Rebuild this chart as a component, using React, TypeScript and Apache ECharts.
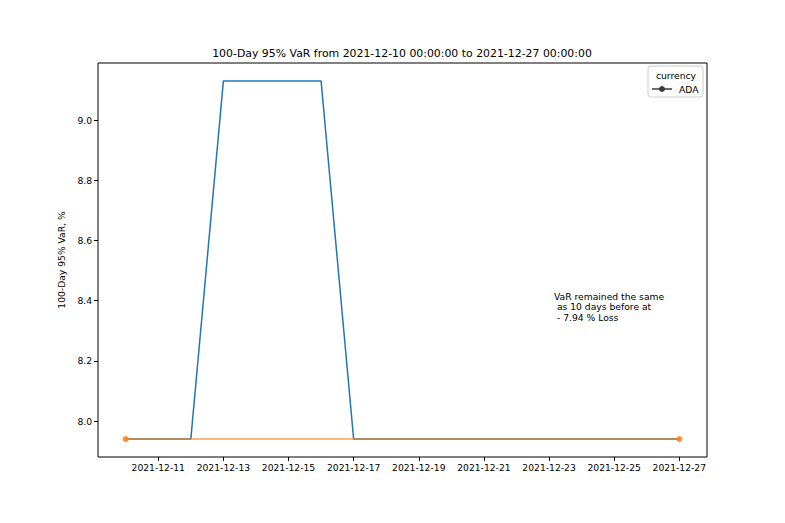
import React, { useEffect, useRef } from "react";
import * as echarts from "echarts";

const dates = [
  "2021-12-10", "2021-12-11", "2021-12-12", "2021-12-13", "2021-12-14", "2021-12-15",
  "2021-12-16", "2021-12-17", "2021-12-18", "2021-12-19", "2021-12-20", "2021-12-21",
  "2021-12-22", "2021-12-23", "2021-12-24", "2021-12-25", "2021-12-26", "2021-12-27",
];
const varValues = [
  7.94, 7.94, 7.94, 9.13, 9.13, 9.13, 9.13, 7.94, 7.94, 7.94, 7.94, 7.94,
  7.94, 7.94, 7.94, 7.94, 7.94, 7.94,
];
const refDates = ["2021-12-10", "2021-12-27"];
const refValues = [7.94, 7.94];
const xTickLabels = [
  "2021-12-11", "2021-12-13", "2021-12-15", "2021-12-17", "2021-12-19",
  "2021-12-21", "2021-12-23", "2021-12-25", "2021-12-27",
];
const yTicks = [8.0, 8.2, 8.4, 8.6, 8.8, 9.0];
const titleText = "100-Day 95% VaR from 2021-12-10 00:00:00 to 2021-12-27 00:00:00";
const yAxisName = "100-Day 95% VaR, %";
const legendTitle = "currency";
const legendItem = "ADA";
const noteText = "VaR remained the same\n as 10 days before at\n - 7.94 % Loss";

const ts = (d: string) => Date.parse(d + "T00:00:00Z");
const fmt = (v: number) => {
  const d = new Date(v);
  const p = (n: number) => String(n).padStart(2, "0");
  return `${d.getUTCFullYear()}-${p(d.getUTCMonth() + 1)}-${p(d.getUTCDate())}`;
};

const FONT = "DejaVu Sans";
const FS = 9.2;

export default function App() {
  const ref = useRef<HTMLDivElement>(null);
  useEffect(() => {
    if (!ref.current) return;
    const chart = echarts.init(ref.current, undefined, { renderer: "svg" });
    const xs = dates.map(ts);
    const span = xs[xs.length - 1] - xs[0];
    const xMin = xs[0] - span * 0.05;
    const xMax = xs[xs.length - 1] + span * 0.05;
    const allY = [...varValues, ...refValues];
    const yLo = Math.min(...allY);
    const yHi = Math.max(...allY);
    const yMin = yLo - (yHi - yLo) * 0.05;
    const yMax = yHi + (yHi - yLo) * 0.05;
    const xTickVals = xTickLabels.map(ts);

    chart.setOption({
      animation: false,
      backgroundColor: "#ffffff",
      graphic: [
        {
          type: "text",
          x: 402,
          y: 53,
          style: {
            text: titleText,
            fontFamily: FONT,
            fontSize: 10.9,
            fill: "#000",
            align: "center",
            verticalAlign: "middle",
          },
          z: 11,
        },
        {
          type: "rect",
          shape: { x: 648, y: 66, width: 55, height: 31, r: 3 },
          style: { fill: "rgba(255,255,255,0.8)", stroke: "#cccccc", lineWidth: 1 },
          z: 10,
        },
        {
          type: "text",
          x: 676,
          y: 75,
          style: {
            text: legendTitle,
            fontFamily: FONT,
            fontSize: FS,
            fill: "#000",
            align: "center",
            verticalAlign: "middle",
          },
          z: 11,
        },
        {
          type: "line",
          shape: { x1: 652, y1: 89, x2: 672, y2: 89 },
          style: { stroke: "#3a3a3a", lineWidth: 1.5 },
          z: 11,
        },
        {
          type: "circle",
          shape: { cx: 662, cy: 89, r: 3 },
          style: { fill: "#3a3a3a" },
          z: 11,
        },
        {
          type: "text",
          x: 679,
          y: 89,
          style: {
            text: legendItem,
            fontFamily: FONT,
            fontSize: FS,
            fill: "#000",
            align: "left",
            verticalAlign: "middle",
          },
          z: 11,
        },
        {
          type: "text",
          x: 554,
          y: 291,
          style: {
            text: noteText,
            fontFamily: FONT,
            fontSize: FS,
            lineHeight: 10.5,
            fill: "#000",
            align: "left",
            verticalAlign: "top",
          },
          z: 11,
        },
      ],
      grid: {
        left: 98,
        right: 78,
        top: 63,
        bottom: 66,
        show: true,
        borderColor: "#000",
        borderWidth: 1,
        backgroundColor: "transparent",
      },
      xAxis: {
        type: "value",
        min: xMin,
        max: xMax,
        axisLine: { show: false },
        splitLine: { show: false },
        axisTick: {
          show: true,
          customValues: xTickVals,
          length: 4,
          lineStyle: { color: "#000" },
        },
        axisLabel: {
          customValues: xTickVals,
          formatter: (v: number) => fmt(v),
          fontFamily: FONT,
          fontSize: FS,
          color: "#000",
          margin: 6,
        },
      },
      yAxis: {
        type: "value",
        min: yMin,
        max: yMax,
        name: yAxisName,
        nameLocation: "middle",
        nameGap: 22,
        nameTextStyle: { fontFamily: FONT, fontSize: FS, color: "#000" },
        axisLine: { show: false },
        splitLine: { show: false },
        axisTick: {
          show: true,
          customValues: yTicks,
          length: 4,
          lineStyle: { color: "#000" },
        },
        axisLabel: {
          customValues: yTicks,
          formatter: (v: number) => v.toFixed(1),
          fontFamily: FONT,
          fontSize: FS,
          color: "#000",
          margin: 6,
        },
      },
      series: [
        {
          type: "line",
          name: legendItem,
          data: dates.map((d, i) => [ts(d), varValues[i]]),
          showSymbol: false,
          symbol: "none",
          lineStyle: { color: "#1f77b4", width: 1.5 },
          itemStyle: { color: "#1f77b4" },
          z: 2,
        },
        {
          type: "line",
          name: "ref",
          data: refDates.map((d, i) => [ts(d), refValues[i]]),
          symbol: "circle",
          symbolSize: 6,
          showSymbol: true,
          lineStyle: { color: "#ff7f0e", width: 1.5, opacity: 0.75 },
          itemStyle: { color: "#ff7f0e", opacity: 0.85 },
          z: 3,
        },
      ],
    });
    return () => chart.dispose();
  }, []);
  return <div ref={ref} style={{ width: 785, height: 523, margin: -8 }} />;
}
